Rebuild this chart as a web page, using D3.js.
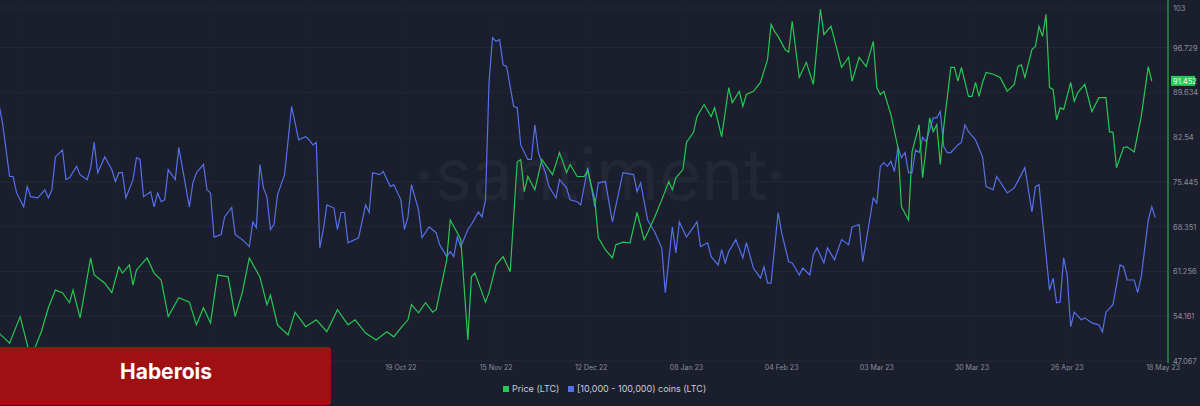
<!DOCTYPE html>
<html><head><meta charset="utf-8">
<script src="https://cdn.jsdelivr.net/npm/d3@7"></script>
<style>html,body{margin:0;padding:0;background:#1b1e2c;overflow:hidden}</style>
</head><body><svg id="c" width="1200" height="406"></svg>
<script>
const startDate = "2022-06-27";
const tickLabels = ["03 Jul 22","30 Jul 22","26 Aug 22","22 Sep 22","19 Oct 22","15 Nov 22","12 Dec 22","08 Jan 23","04 Feb 23","03 Mar 23","30 Mar 23","26 Apr 23"];
const tickDates = ["2022-07-03","2022-07-30","2022-08-26","2022-09-22","2022-10-19","2022-11-15","2022-12-12","2023-01-08","2023-02-04","2023-03-03","2023-03-30","2023-04-26"];
const lastLabel = "18 May 23";
const yTicks = [47.067,54.161,61.256,68.351,75.445,82.54,89.634,96.729,103];
const lastPrice = 91.452;
const priceDays = [0,3,6,9,12,14,16,18,20,21,23,26,27,30,32,34,35,37,38,39,42,44,46,48,51,54,56,58,60,62,65,67,69,71,74,76,77,79,82,84,87,90,93,96,99,101,104,107,110,112,114,116,117,119,121,123,124,126,127,128,130,131,133,134,135,138,139,141,143,145,147,148,149,150,152,154,157,159,161,162,164,166,167,169,170,172,174,175,177,179,181,183,184,186,188,190,191,192,194,195,197,198,200,202,203,205,207,208,210,211,212,214,216,218,219,220,221,223,224,225,227,229,231,233,234,236,237,239,241,242,244,246,248,249,250,251,253,255,256,258,259,261,262,263,264,265,266,267,268,270,271,272,273,275,276,277,278,279,280,282,284,285,286,288,289,290,291,293,294,295,296,297,298,299,300,301,302,304,305,306,308,310,312,314,315,316,317,319,320,322,324,326,327];
const priceValues = [51.5,49.9,54.1,47.5,51.7,55.5,58.3,57.9,56.3,58.3,53.9,63.4,60.7,59.4,57.9,62.0,61.0,62.3,59.1,61.5,63.4,61.0,59.9,54.1,57.1,56.4,52.8,55.5,53.1,60.7,60.4,54.1,57.9,63.4,60.4,56.0,57.5,52.8,51.2,54.8,52.5,53.6,51.7,55.2,52.8,53.6,51.5,50.4,51.7,50.9,52.3,53.6,56.0,54.7,56.3,54.8,55.2,60.4,63.1,69.4,67.4,66.3,50.4,60.4,61.0,56.4,57.9,62.3,63.6,61.2,78.6,79.0,73.9,76.3,74.2,79.0,76.6,80.1,76.9,78.2,76.3,76.3,77.2,72.6,66.6,64.7,63.4,65.5,65.9,65.8,70.6,66.3,67.4,69.9,72.6,75.5,74.2,76.1,77.4,81.7,83.3,85.8,87.7,85.8,87.2,82.6,90.4,88.0,89.8,87.4,89.3,89.8,91.2,94.8,100.4,99.3,98.5,96.4,96.0,100.9,92.0,94.4,90.9,102.8,98.8,100.1,98.0,93.6,95.2,91.4,95.2,93.7,97.7,90.4,89.3,89.8,86.1,80.9,71.5,69.4,80.2,84.5,76.1,80.9,85.6,83.4,84.5,78.2,84.2,93.6,93.6,91.4,93.6,89.0,89.0,91.2,89.0,91.2,92.8,92.5,92.0,90.9,89.8,90.9,93.7,94.0,92.0,96.4,96.9,100.1,98.5,102.0,90.4,90.1,85.3,87.2,86.9,91.2,88.2,89.6,90.9,86.6,88.8,88.8,83.4,83.3,77.7,80.9,81.0,80.2,85.8,93.7,91.4];
const coinDays = [0,1,3,4,5,7,8,9,11,13,14,15,16,18,19,20,22,23,25,26,27,28,30,32,33,34,35,36,38,39,40,41,43,44,45,46,47,48,50,51,54,55,56,58,59,60,61,63,64,66,67,69,71,72,73,74,75,76,77,78,79,81,83,85,87,88,89,90,91,92,93,95,96,97,98,99,102,104,105,106,108,109,111,112,114,115,116,117,119,120,122,124,125,127,128,129,130,131,133,134,136,137,138,139,140,141,142,143,144,146,147,148,150,151,152,153,155,156,158,159,161,162,164,165,167,169,170,172,174,177,180,181,182,184,186,188,189,191,192,193,195,198,199,201,202,204,205,206,207,209,211,212,214,216,217,218,219,221,222,224,225,227,228,230,231,232,234,235,237,239,241,242,244,245,248,249,250,251,252,253,254,255,256,257,258,259,260,261,262,263,265,266,267,268,269,270,272,273,274,275,277,279,280,282,283,286,288,291,293,294,295,298,299,300,301,302,303,304,305,307,308,310,312,313,314,316,318,319,320,322,323,324,326,327,328];
const coinValues = [87.7,84.8,76.3,76.3,73.7,71.5,74.7,73.1,72.9,74.2,72.9,74.2,79.4,80.5,75.8,76.1,77.9,76.6,75.8,77.7,81.7,76.9,79.4,77.4,75.5,76.9,76.9,72.9,75.8,79.3,79.0,73.1,73.9,71.5,73.7,72.3,72.6,77.4,75.8,80.9,71.5,75.3,76.9,78.2,74.2,73.7,66.7,67.1,69.9,71.4,67.1,66.3,65.2,69.1,68.2,78.2,74.5,73.1,67.9,68.7,73.4,76.6,87.4,82.1,82.6,82.1,81.3,81.7,65.0,67.9,71.8,71.3,67.9,70.6,70.6,65.8,66.6,71.8,70.6,76.9,76.6,77.1,74.7,75.0,72.6,67.9,69.9,75.0,71.0,66.6,68.3,67.4,65.5,63.6,64.4,63.6,66.7,65.2,67.9,68.7,70.7,69.9,72.6,91.2,98.3,97.7,98.0,94.0,93.7,87.4,87.2,81.3,79.0,79.0,84.5,80.1,76.9,74.7,72.9,75.8,74.5,72.6,72.3,71.8,77.7,71.5,75.3,75.5,69.1,76.9,76.6,73.9,75.3,69.4,67.5,65.0,57.9,68.3,64.2,69.1,66.7,69.1,65.2,65.8,63.6,62.3,64.7,62.6,64.4,66.3,63.4,65.8,61.8,60.2,62.0,59.4,59.4,70.6,67.4,62.8,62.6,60.7,61.8,60.7,63.9,65.0,62.6,65.0,63.1,66.3,65.5,68.3,68.7,62.8,72.9,72.1,77.9,78.5,77.9,78.7,77.1,80.9,79.3,80.1,76.9,76.9,80.5,80.1,82.5,81.8,85.6,85.6,86.6,81.0,80.1,80.1,81.3,81.7,84.5,83.4,82.1,79.4,74.7,74.2,76.3,73.7,74.5,77.7,70.7,74.7,75.0,58.3,60.2,56.3,56.4,63.4,60.7,52.5,54.8,53.6,53.9,53.1,52.8,51.7,54.8,56.0,62.3,62.0,59.9,59.9,57.9,60.4,69.4,71.5,69.8];

const svg = d3.select("#c");
const W=1200, H=406, axisX=1168, yTop=8, yBottom=361;
const parse = d3.timeParse("%Y-%m-%d");
const t0 = parse(startDate);
const dayMs = 864e5;
const toDate = d => new Date(t0.getTime() + d*dayMs);
const x = d3.scaleTime().domain([toDate(0), toDate(331.6)]).range([-1, axisX]);
const y = d3.scaleLinear().domain([47.067, 103]).range([yBottom, yTop]);

svg.append("rect").attr("width",W).attr("height",H).attr("fill","#1b1e2c");
svg.append("g").selectAll("line").data(yTicks).join("line")
  .attr("x1",0).attr("x2",axisX).attr("y1",d=>y(d)).attr("y2",d=>y(d))
  .attr("stroke","#242837").attr("stroke-width",1);
svg.append("g").selectAll("line").data(tickDates).join("line")
  .attr("x1",d=>x(parse(d))).attr("x2",d=>x(parse(d))).attr("y1",0).attr("y2",yBottom)
  .attr("stroke","#222634").attr("stroke-dasharray","1,3");
svg.append("text").attr("x",600).attr("y",200).attr("text-anchor","middle")
  .attr("font-family","Inter, sans-serif").attr("font-size",72).attr("fill","#232736")
  .text("·santiment·");
const line = d3.line().x(d=>x(toDate(d[0]))).y(d=>y(d[1]));
svg.append("path").datum(coinDays.map((d,i)=>[d,coinValues[i]]))
  .attr("d",line).attr("fill","none").attr("stroke","#5470ea").attr("stroke-width",1.2);
svg.append("path").datum(priceDays.map((d,i)=>[d,priceValues[i]]))
  .attr("d",line).attr("fill","none").attr("stroke","#26c953").attr("stroke-width",1.2);
svg.append("line").attr("x1",axisX).attr("x2",axisX).attr("y1",0).attr("y2",yBottom+2)
  .attr("stroke","#26c953").attr("stroke-width",1);
svg.append("g").selectAll("text").data(yTicks).join("text")
  .attr("x",axisX+5).attr("y",d=>y(d)+3).attr("font-family","Inter, sans-serif")
  .attr("font-size",7.5).attr("fill","#8a8f9e").text(d=>d);
svg.append("rect").attr("x",axisX+3).attr("y",y(lastPrice)-5).attr("width",24).attr("height",10).attr("fill","#26c953");
svg.append("text").attr("x",axisX+5).attr("y",y(lastPrice)+3).attr("font-family","Inter, sans-serif")
  .attr("font-size",7.5).attr("fill","#eafff0").text(lastPrice);
svg.append("g").selectAll("text").data(tickDates).join("text")
  .attr("x",d=>x(parse(d))).attr("y",370).attr("text-anchor","middle")
  .attr("font-family","Inter, sans-serif").attr("font-size",7).attr("fill","#8a8f9e")
  .text((d,i)=>tickLabels[i]);
svg.append("text").attr("x",axisX+12).attr("y",370).attr("text-anchor","end")
  .attr("font-family","Inter, sans-serif").attr("font-size",7).attr("fill","#8a8f9e").text(lastLabel);
const lg = svg.append("g").attr("font-family","Inter, sans-serif").attr("font-size",9).attr("fill","#c9cdd8");
lg.append("rect").attr("x",503).attr("y",386).attr("width",6).attr("height",6).attr("fill","#26c953");
lg.append("text").attr("x",512).attr("y",392).text("Price (LTC)");
lg.append("rect").attr("x",568).attr("y",386).attr("width",6).attr("height",6).attr("fill","#5470ea");
lg.append("text").attr("x",577).attr("y",392).text("[10,000 - 100,000) coins (LTC)");
svg.append("rect").attr("x",-6).attr("y",347).attr("width",337).attr("height",58).attr("rx",3).attr("fill","#a00f12");
svg.append("text").attr("x",166).attr("y",379).attr("text-anchor","middle")
  .attr("font-family","Inter, sans-serif").attr("font-weight",700).attr("font-size",21).attr("fill","#ffffff").text("Haberois");
</script></body></html>
